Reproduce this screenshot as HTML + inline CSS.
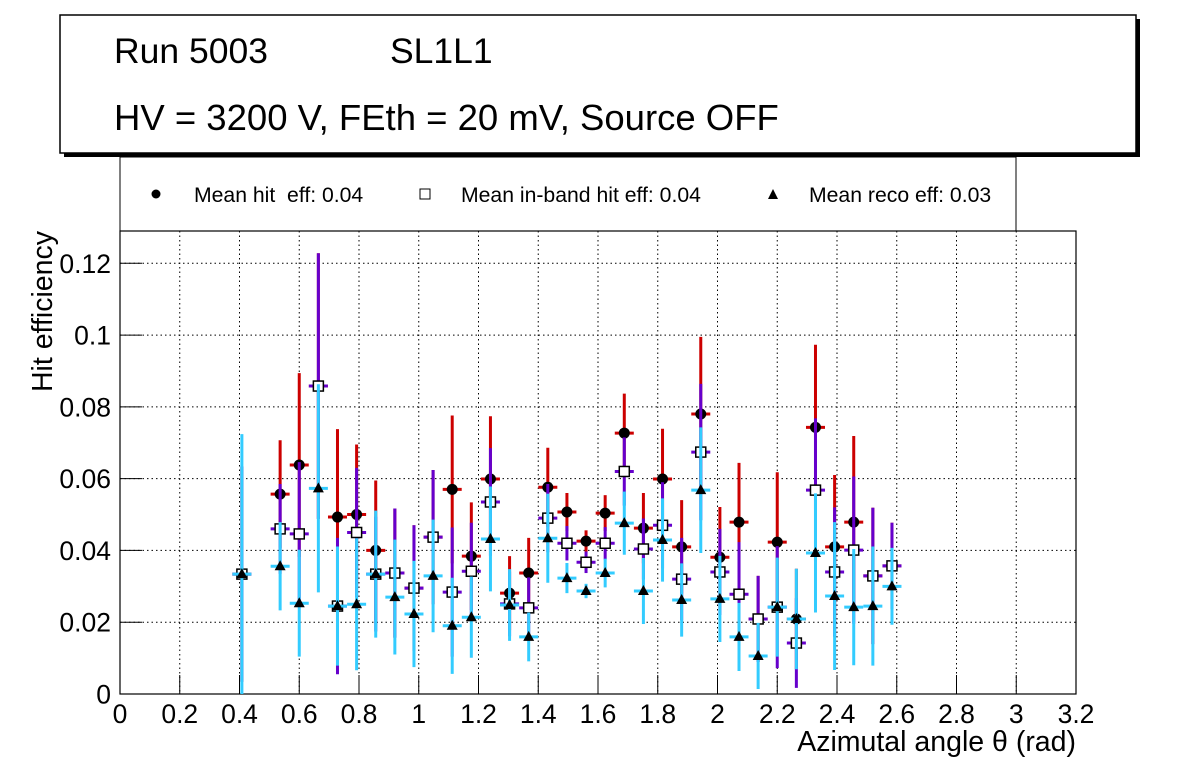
<!DOCTYPE html>
<html><head><meta charset="utf-8"><style>
body{margin:0;background:#fff;}
svg text{font-family:"Liberation Sans",sans-serif;white-space:pre;}
</style></head><body>
<svg id="c" width="1196" height="772" xmlns="http://www.w3.org/2000/svg">
<g>
<rect x="64" y="19" width="1076" height="138" fill="#000"/>
<rect x="60" y="15" width="1076" height="138" fill="#fff" stroke="#000" stroke-width="1.5"/>
<text x="114" y="63" font-size="35.5">Run 5003</text>
<text x="390" y="63" font-size="35.5">SL1L1</text>
<text x="114" y="130" font-size="36.5">HV = 3200 V, FEth = 20 mV, Source OFF</text>
</g>
<g>
<rect x="120" y="157" width="896" height="74" fill="#fff" stroke="#000" stroke-width="1"/>
<circle cx="156" cy="194" r="4.5" fill="#000"/>
<text x="194" y="202" font-size="21.2" xml:space="preserve">Mean hit  eff: 0.04</text>
<rect x="420" y="189" width="10" height="10" fill="#fff" stroke="#000"/>
<text x="461" y="202" font-size="21.2">Mean in-band hit eff: 0.04</text>
<polygon points="773,189 768,199 778,199" fill="#000"/>
<text x="809" y="202" font-size="21.2">Mean reco eff: 0.03</text>
</g>
<g id="plot"></g>
</svg>
<script>
const centers=[0.408,0.536,0.600,0.664,0.728,0.792,0.856,0.920,0.984,1.048,1.112,1.176,1.240,1.304,1.368,1.432,1.496,1.560,1.624,1.688,1.752,1.816,1.880,1.944,2.008,2.072,2.136,2.200,2.264,2.328,2.392,2.456,2.520,2.584];
const hitVals=[0.0334,0.0557,0.0638,0.0858,0.0493,0.050,0.040,0.0337,0.0295,0.0437,0.057,0.0384,0.0599,0.0281,0.0337,0.0576,0.0507,0.0426,0.0504,0.0727,0.0462,0.0599,0.041,0.078,0.0381,0.0479,0.0209,0.0423,0.0209,0.0743,0.041,0.0479,0.0329,0.0357];
const hitErr=[0.030,0.015,0.0256,0.037,0.0245,0.0195,0.0195,0.018,0.0175,0.0187,0.0206,0.015,0.0175,0.0103,0.0098,0.011,0.0053,0.003,0.005,0.011,0.0098,0.014,0.013,0.0215,0.014,0.0165,0.012,0.0195,0.014,0.023,0.020,0.024,0.019,0.012];
const inVals=[0.0334,0.046,0.0446,0.0858,0.0245,0.045,0.0334,0.0337,0.0295,0.0437,0.0284,0.0342,0.0535,0.0251,0.024,0.049,0.042,0.0367,0.042,0.062,0.0404,0.047,0.032,0.0674,0.034,0.0278,0.0209,0.0242,0.0142,0.0568,0.034,0.0401,0.0329,0.0357];
const inErr=[0.030,0.0125,0.020,0.037,0.019,0.018,0.016,0.018,0.0175,0.0187,0.018,0.0135,0.015,0.009,0.0085,0.0095,0.0048,0.003,0.0045,0.0095,0.0085,0.012,0.0115,0.019,0.012,0.0145,0.012,0.017,0.0125,0.020,0.018,0.0205,0.019,0.012];
const recoVals=[0.0334,0.0356,0.0253,0.0573,0.0245,0.025,0.0334,0.027,0.0223,0.0329,0.019,0.0214,0.0432,0.0248,0.0159,0.0434,0.0323,0.0287,0.0337,0.0476,0.0287,0.0429,0.0262,0.0568,0.0265,0.0159,0.0106,0.0242,0.0209,0.0393,0.0273,0.0242,0.0245,0.030];
const recoErr=[0.039,0.0123,0.0149,0.029,0.0166,0.0184,0.0177,0.016,0.0148,0.0157,0.0134,0.0113,0.0146,0.010,0.0068,0.0124,0.0042,0.002,0.004,0.0088,0.0092,0.0116,0.0102,0.0175,0.012,0.0095,0.0092,0.0138,0.014,0.0166,0.0206,0.0162,0.0166,0.0107];
const xTicks=[0,0.2,0.4,0.6,0.8,1,1.2,1.4,1.6,1.8,2,2.2,2.4,2.6,2.8,3,3.2];
const yTicks=[0,0.02,0.04,0.06,0.08,0.1,0.12];

const X0=120,X1=1076,Y0=694,Y1=231,XMAX=3.2,YMAX=0.129;
const sx=v=>X0+(X1-X0)*v/XMAX;
const sy=v=>Y0-(Y0-Y1)*v/YMAX;
const NS="http://www.w3.org/2000/svg";
const plot=document.getElementById('plot');
function mk(tag,attrs,parent){const e=document.createElementNS(NS,tag);for(const k in attrs)e.setAttribute(k,attrs[k]);(parent||plot).appendChild(e);return e;}
const frame=mk('rect',{x:X0,y:Y1,width:X1-X0,height:Y0-Y1,fill:'#fff',stroke:'#000','stroke-width':1.2});


xTicks.forEach(t=>{
 const x=sx(t);
 if(t>0&&t<XMAX){const g=mk('line',{x1:x,x2:x,y1:Y1,y2:Y0,stroke:'#000','stroke-dasharray':'1.5,3','stroke-width':1});
 
 }
 const tk=mk('line',{x1:x,x2:x,y1:Y0,y2:Y0-19,stroke:'#000'});
 
 
 const lb=mk('text',{x:x,y:723,'font-size':26.5,'text-anchor':'middle'});
 lb.textContent=String(t);
 
 
});
yTicks.forEach(t=>{
 const y=sy(t);
 if(t>0){const g=mk('line',{x1:X0,x2:X1,y1:y,y2:y,stroke:'#000','stroke-dasharray':'1.5,3','stroke-width':1});
 
 }
 const tk=mk('line',{x1:X0,x2:X0+22,y1:y,y2:y,stroke:'#000'});
 
 
 const lb=mk('text',{x:111,y:y+9.5,'font-size':26.5,'text-anchor':'end'});
 lb.textContent=String(t);
 
 
});
const xt=mk('text',{x:X1,y:751,'font-size':28.5,'text-anchor':'end'});
xt.textContent='Azimutal angle \u03b8 (rad)';


const yt=mk('text',{x:0,y:0,'font-size':28.5,'text-anchor':'end',transform:'translate(52,231) rotate(-90)'});
yt.textContent='Hit efficiency';


const hw=9.5;
function series(vals,errs,color,name){
 vals.forEach((v,i)=>{
  const x=sx(centers[i]);
  const g=mk('g',{});
  
  
  mk('line',{x1:x,x2:x,y1:sy(Math.min(v+errs[i],YMAX)),y2:sy(Math.max(v-errs[i],0)),stroke:color,'stroke-width':3},g);
  mk('line',{x1:x-hw,x2:x+hw,y1:sy(v),y2:sy(v),stroke:color,'stroke-width':3},g);
 });
}
series(hitVals,hitErr,'#cc0000','hit');
hitVals.forEach((v,i)=>{const c=mk('circle',{cx:sx(centers[i]),cy:sy(v),r:5.5,fill:'#000'});
 
 });
series(inVals,inErr,'#6600cc','inband');
inVals.forEach((v,i)=>{const x=sx(centers[i]),y=sy(v);const r=mk('rect',{x:x-5,y:y-5,width:10,height:10,fill:'#fff',stroke:'#000','stroke-width':1.5});
 
 });
series(recoVals,recoErr,'#33ccff','reco');
recoVals.forEach((v,i)=>{const x=sx(centers[i]),y=sy(v);const p=mk('polygon',{points:`${x},${y-6} ${x-5.5},${y+4} ${x+5.5},${y+4}`,fill:'#000'});
 
 });
</script>
</body></html>
